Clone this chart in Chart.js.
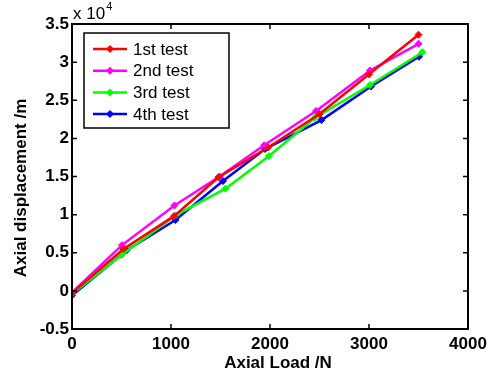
<!DOCTYPE html>
<html lang="en">
<head>
    <meta charset="UTF-8">
    <title>Axial displacement vs load</title>
    <style>
        body {
            margin: 0;
            padding: 0;
            background: #ffffff;
        }
        #wrap {
            width: 501px;
            height: 377px;
        }
    </style>
    <script src="https://cdn.jsdelivr.net/npm/chart.js"></script>
</head>
<body>
    <div id="wrap">
        <canvas id="loadChart" width="501" height="377"></canvas>
    </div>

    <script>
        // data (displacement in units of 1e4)
        const testNames = ['1st test', '2nd test', '3rd test', '4th test'];
        const testColors = ['#ff0000', '#ff00ff', '#00ff00', '#0000ff'];

        const load1 = [0, 520, 1030, 1480, 1980, 2500, 3000, 3500];
        const disp1 = [-0.03, 0.55, 0.98, 1.49, 1.88, 2.32, 2.84, 3.36];

        const load2 = [0, 505, 1035, 1490, 1940, 2465, 3010, 3500];
        const disp2 = [-0.02, 0.60, 1.12, 1.50, 1.91, 2.36, 2.89, 3.24];

        const load3 = [0, 500, 1045, 1550, 1990, 2455, 3010, 3540];
        const disp3 = [-0.04, 0.47, 0.99, 1.34, 1.77, 2.27, 2.70, 3.13];

        const load4 = [0, 550, 1045, 1525, 1950, 2520, 3020, 3505];
        const disp4 = [-0.06, 0.53, 0.93, 1.44, 1.86, 2.24, 2.68, 3.07];

        const xTicks = [0, 1000, 2000, 3000, 4000];
        const yTicks = [-0.5, 0, 0.5, 1, 1.5, 2, 2.5, 3, 3.5];

        const xTitle = 'Axial Load /N';
        const yTitle = 'Axial displacement /m';

        const allLoads = [load1, load2, load3, load4];
        const allDisps = [disp1, disp2, disp3, disp4];

        function toPoints(xs, ys) {
            return xs.map((x, i) => ({ x: x, y: ys[i] }));
        }

        const datasets = testNames.map((name, i) => ({
            label: name,
            data: toPoints(allLoads[i], allDisps[i]),
            borderColor: testColors[i],
            backgroundColor: testColors[i],
            borderWidth: 2.5,
            pointStyle: 'rectRot',
            pointRadius: 3.5,
            pointBorderWidth: 1,
            fill: false,
            tension: 0
        }));

        const family = 'Arial, "Liberation Sans", sans-serif';
        const fontBold = { family: family, size: 17, weight: 'bold' };

        // frame, inward ticks, titles, legend box and the x10^4 label
        const framePlugin = {
            id: 'frame',
            afterDraw(chart) {
                const ctx = chart.ctx;
                const a = chart.chartArea;
                const xs = chart.scales.x;
                const ys = chart.scales.y;
                ctx.save();
                ctx.strokeStyle = '#000';
                ctx.lineWidth = 2;
                ctx.strokeRect(a.left, a.top, a.right - a.left, a.bottom - a.top);

                ctx.lineWidth = 1.5;
                const tl = 5;
                xTicks.forEach(v => {
                    const px = xs.getPixelForValue(v);
                    ctx.beginPath();
                    ctx.moveTo(px, a.bottom); ctx.lineTo(px, a.bottom - tl);
                    ctx.moveTo(px, a.top); ctx.lineTo(px, a.top + tl);
                    ctx.stroke();
                });
                yTicks.forEach(v => {
                    const py = ys.getPixelForValue(v);
                    ctx.beginPath();
                    ctx.moveTo(a.left, py); ctx.lineTo(a.left + tl, py);
                    ctx.moveTo(a.right, py); ctx.lineTo(a.right - tl, py);
                    ctx.stroke();
                });

                // axis titles
                ctx.fillStyle = '#000';
                ctx.font = 'bold 17px ' + family;
                ctx.textAlign = 'center';
                ctx.textBaseline = 'middle';
                ctx.fillText(xTitle, 278, 363);
                ctx.save();
                ctx.translate(21, 188);
                ctx.rotate(-Math.PI / 2);
                ctx.fillText(yTitle, 0, 0);
                ctx.restore();

                // exponent label
                ctx.textAlign = 'left';
                ctx.font = '17px ' + family;
                ctx.fillText('x 10', a.left + 1, 14);
                const w = ctx.measureText('x 10').width;
                ctx.font = '11px ' + family;
                ctx.fillText('4', a.left + 1 + w + 1, 7);

                // legend
                const lx = 84, ly = 33, lw = 145, lh = 95;
                ctx.fillStyle = '#fff';
                ctx.fillRect(lx, ly, lw, lh);
                ctx.lineWidth = 1.5;
                ctx.strokeStyle = '#000';
                ctx.strokeRect(lx, ly, lw, lh);
                ctx.font = '17px ' + family;
                chart.data.datasets.forEach((ds, i) => {
                    const yy = 49 + i * 21.7;
                    ctx.strokeStyle = ds.borderColor;
                    ctx.lineWidth = 2.5;
                    ctx.beginPath();
                    ctx.moveTo(93, yy); ctx.lineTo(127, yy);
                    ctx.stroke();
                    ctx.fillStyle = ds.borderColor;
                    ctx.beginPath();
                    ctx.moveTo(110, yy - 4); ctx.lineTo(114, yy);
                    ctx.lineTo(110, yy + 4); ctx.lineTo(106, yy);
                    ctx.closePath();
                    ctx.fill();
                    ctx.fillStyle = '#000';
                    ctx.fillText(ds.label, 133, yy + 1);
                });
                ctx.restore();
            }
        };

        const ctx = document.getElementById('loadChart').getContext('2d');
        const loadChart = new Chart(ctx, {
            type: 'line',
            data: { datasets: datasets },
            options: {
                responsive: false,
                animation: false,
                layout: { padding: { left: 4, right: 33, top: 24, bottom: 4 } },
                plugins: {
                    legend: { display: false },
                    tooltip: { enabled: false }
                },
                scales: {
                    x: {
                        type: 'linear',
                        min: 0,
                        max: 4000,
                        afterBuildTicks: s => { s.ticks = xTicks.map(v => ({ value: v })); },
                        afterFit: s => { s.height = 44; },
                        grid: { display: false, drawTicks: false },
                        border: { display: false },
                        ticks: { color: '#000', font: fontBold, padding: 5, maxRotation: 0, callback: v => String(v) }
                    },
                    y: {
                        type: 'linear',
                        min: -0.5,
                        max: 3.5,
                        afterBuildTicks: s => { s.ticks = yTicks.map(v => ({ value: v })); },
                        afterFit: s => { s.width = 68; },
                        grid: { display: false, drawTicks: false },
                        border: { display: false },
                        ticks: { color: '#000', font: fontBold, padding: 3, callback: v => String(v) }
                    }
                }
            },
            plugins: [framePlugin]
        });
    </script>
</body>
</html>
